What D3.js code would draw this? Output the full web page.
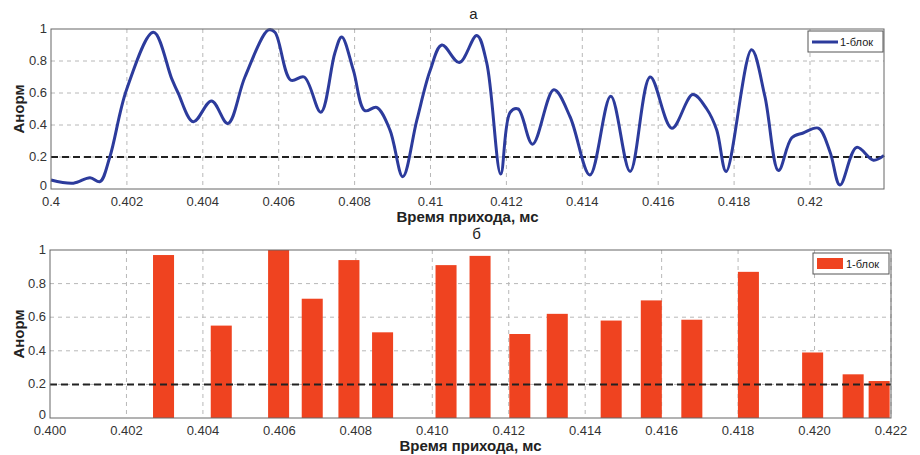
<!DOCTYPE html>
<html>
<head>
  <meta charset="utf-8">
  <script src="https://d3js.org/d3.v7.min.js"></script>
  <style type="text/css">
    body { margin: 0; background: #fff; }
    .tick-label { font-family: "Liberation Sans", Arial, sans-serif; font-size: 13px; fill: #333; }
    .axis-title { font-family: "Liberation Sans", Arial, sans-serif; font-size: 15px; font-weight: bold; fill: #222; }
    .panel-title { font-family: "Liberation Sans", Arial, sans-serif; font-size: 15px; fill: #222; }
    .legend-text { font-family: "Liberation Sans", Arial, sans-serif; font-size: 11px; fill: #222; }
  </style>
</head>
<body>
<script type="text/javascript">
  // top panel: smoothed curve (time, ms / normalized amplitude)
  var curveT = [0.4, 0.40059, 0.40103, 0.40129, 0.40155, 0.40199, 0.4027, 0.40318, 0.40335,
    0.40375, 0.40423, 0.40466, 0.40511, 0.40573, 0.4059, 0.40632, 0.40667, 0.40711, 0.40748,
    0.40766, 0.40797, 0.40827, 0.40858, 0.40893, 0.40927, 0.40964, 0.40999, 0.4103, 0.41076,
    0.41122, 0.41148, 0.41185, 0.4121, 0.41231, 0.41269, 0.41325, 0.41368, 0.4142, 0.41475,
    0.41526, 0.41579, 0.41636, 0.41691, 0.41728, 0.41754, 0.41779, 0.41846, 0.41881, 0.41917,
    0.41952, 0.41982, 0.42022, 0.42053, 0.42079, 0.42123, 0.42167, 0.42195];
  var curveA = [0.056, 0.036, 0.071, 0.046, 0.20, 0.62, 0.98, 0.69, 0.60,
    0.42, 0.55, 0.41, 0.70, 0.994, 0.98, 0.68, 0.70, 0.48, 0.85,
    0.95, 0.74, 0.49, 0.51, 0.37, 0.077, 0.43, 0.74, 0.90, 0.79,
    0.96, 0.79, 0.094, 0.48, 0.50, 0.28, 0.62, 0.45, 0.088, 0.58,
    0.11, 0.70, 0.38, 0.59, 0.50, 0.37, 0.11, 0.87, 0.58, 0.115,
    0.32, 0.35, 0.38, 0.23, 0.025, 0.26, 0.18, 0.21];

  // bottom panel: picked peaks
  var barT = [0.40297, 0.40448, 0.40598, 0.40686, 0.40782, 0.4087, 0.41036, 0.41125, 0.41229,
    0.41327, 0.41468, 0.41573, 0.41679, 0.41827, 0.41995, 0.42101, 0.42169];
  var barA = [0.97, 0.55, 1.0, 0.71, 0.94, 0.51, 0.91, 0.965, 0.50,
    0.62, 0.58, 0.70, 0.585, 0.87, 0.39, 0.26, 0.22];

  var threshold = 0.2;
  var topTicks = [0.4, 0.402, 0.404, 0.406, 0.408, 0.41, 0.412, 0.414, 0.416, 0.418, 0.42];
  var topTickLabels = ["0.4", "0.402", "0.404", "0.406", "0.408", "0.41", "0.412", "0.414", "0.416", "0.418", "0.42"];
  var botTicks = [0.4, 0.402, 0.404, 0.406, 0.408, 0.41, 0.412, 0.414, 0.416, 0.418, 0.42, 0.422];
  var botTickLabels = ["0.400", "0.402", "0.404", "0.406", "0.408", "0.410", "0.412", "0.414", "0.416", "0.418", "0.420", "0.422"];
  var yTicks = [0, 0.2, 0.4, 0.6, 0.8, 1];
  var yTickLabels = ["0", "0.2", "0.4", "0.6", "0.8", "1"];

  var svg = d3.select("body").append("svg")
      .attr("width", 920)
      .attr("height", 455);

  var lineColor = "#2c3b9c",
      barColor = "#ef4320";

  function panel(box, xDomain, xTicks, xLabels, title, titleY) {
    var x = d3.scaleLinear().domain(xDomain).range([box.left, box.right]);
    var y = d3.scaleLinear().domain([0, 1]).range([box.bottom, box.top]);
    var g = svg.append("g");

    // grid
    g.selectAll(".gx").data(xTicks.slice(1)).enter().append("line")
      .attr("x1", d => x(d)).attr("x2", d => x(d))
      .attr("y1", box.top).attr("y2", box.bottom)
      .attr("stroke", "#b8b8b8").attr("stroke-width", 1).attr("stroke-dasharray", "4,4");
    g.selectAll(".gy").data(yTicks.slice(1, -1)).enter().append("line")
      .attr("x1", box.left).attr("x2", box.right)
      .attr("y1", d => y(d)).attr("y2", d => y(d))
      .attr("stroke", "#b8b8b8").attr("stroke-width", 1).attr("stroke-dasharray", "4,4");

    // tick labels
    g.selectAll(".tx").data(xTicks).enter().append("text")
      .attr("class", "tick-label")
      .attr("x", d => x(d)).attr("y", box.bottom + 17)
      .attr("text-anchor", "middle")
      .text((d, i) => xLabels[i]);
    g.selectAll(".ty").data(yTicks).enter().append("text")
      .attr("class", "tick-label")
      .attr("x", box.left - 4).attr("y", d => y(d) + (d === 0 ? 1 : 4))
      .attr("text-anchor", "end")
      .text((d, i) => yTickLabels[i]);

    // titles
    g.append("text").attr("class", "axis-title")
      .attr("x", (box.left + box.right) / 2).attr("y", box.bottom + 33)
      .attr("text-anchor", "middle").text("Время прихода, мс");
    g.append("text").attr("class", "axis-title")
      .attr("transform", "translate(" + 24 + "," + ((box.top + box.bottom) / 2) + ") rotate(-90)")
      .attr("text-anchor", "middle").text("Анорм");
    g.append("text").attr("class", "panel-title")
      .attr("x", (box.left + box.right) / 2 + 6).attr("y", titleY)
      .attr("text-anchor", "middle").text(title);

    return { x: x, y: y, g: g };
  }

  // ---- panel a
  var boxA = { left: 51, right: 884, top: 29, bottom: 189 };
  var pa = panel(boxA, [0.4, 0.42195], topTicks, topTickLabels, "а", 19);

  pa.g.append("line")
    .attr("x1", boxA.left).attr("x2", boxA.right)
    .attr("y1", pa.y(threshold)).attr("y2", pa.y(threshold))
    .attr("stroke", "#222").attr("stroke-width", 2).attr("stroke-dasharray", "7,4");

  var pts = curveT.map((t, i) => [t, curveA[i]]);
  pa.g.append("path")
    .datum(pts)
    .attr("fill", "none")
    .attr("stroke", lineColor)
    .attr("stroke-width", 3)
    .attr("d", d3.line().x(d => pa.x(d[0])).y(d => pa.y(d[1])).curve(d3.curveCatmullRom.alpha(0.5)));

  pa.g.append("rect")
    .attr("x", boxA.left).attr("y", boxA.top)
    .attr("width", boxA.right - boxA.left).attr("height", boxA.bottom - boxA.top)
    .attr("fill", "none").attr("stroke", "#666").attr("stroke-width", 1);

  // legend a
  pa.g.append("rect").attr("x", 808).attr("y", 31).attr("width", 75).attr("height", 21)
    .attr("fill", "#fff").attr("stroke", "#555");
  pa.g.append("line").attr("x1", 812).attr("x2", 838).attr("y1", 42).attr("y2", 42)
    .attr("stroke", lineColor).attr("stroke-width", 3);
  pa.g.append("text").attr("class", "legend-text").attr("x", 840).attr("y", 46).text("1-блок");

  // ---- panel b
  var boxB = { left: 50, right: 891, top: 250, bottom: 418 };
  var pb = panel(boxB, [0.4, 0.422], botTicks, botTickLabels, "б", 239);
  var barW = 0.00055;

  pb.g.selectAll(".bar").data(barT).enter().append("rect")
    .attr("x", d => pb.x(d - barW / 2))
    .attr("width", d => pb.x(d + barW / 2) - pb.x(d - barW / 2))
    .attr("y", (d, i) => pb.y(barA[i]))
    .attr("height", (d, i) => pb.y(0) - pb.y(barA[i]))
    .attr("fill", barColor);

  pb.g.append("line")
    .attr("x1", boxB.left).attr("x2", boxB.right)
    .attr("y1", pb.y(threshold)).attr("y2", pb.y(threshold))
    .attr("stroke", "#222").attr("stroke-width", 2).attr("stroke-dasharray", "7,4");

  pb.g.append("rect")
    .attr("x", boxB.left).attr("y", boxB.top)
    .attr("width", boxB.right - boxB.left).attr("height", boxB.bottom - boxB.top)
    .attr("fill", "none").attr("stroke", "#666").attr("stroke-width", 1);

  // legend b
  pb.g.append("rect").attr("x", 813).attr("y", 253).attr("width", 76).attr("height", 21)
    .attr("fill", "#fff").attr("stroke", "#555");
  pb.g.append("rect").attr("x", 817).attr("y", 258).attr("width", 26).attr("height", 11)
    .attr("fill", barColor);
  pb.g.append("text").attr("class", "legend-text").attr("x", 846).attr("y", 268).text("1-блок");
</script>
</body>
</html>
